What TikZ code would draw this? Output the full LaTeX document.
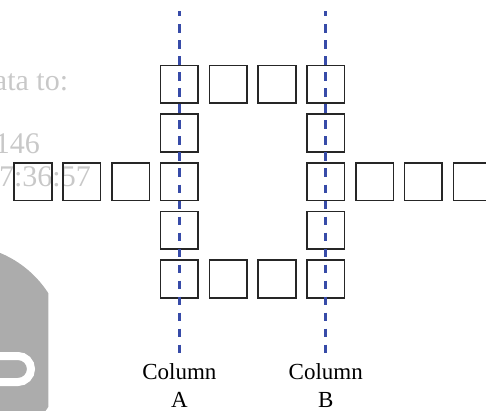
\documentclass[tikz,border=0pt]{standalone}
\usepackage{fontspec}
\setmainfont{Liberation Serif}
\definecolor{colblue}{RGB}{55,75,168}
\definecolor{wmgray}{RGB}{200,200,200}
\definecolor{blobgray}{RGB}{172,172,172}
\begin{document}
\begin{tikzpicture}[x=1pt,y=-1pt,
  cell/.style={draw=black!85, line width=1.6pt, minimum size=37.7pt, inner sep=0pt},
  colline/.style={draw=colblue, line width=2.8pt, dash pattern=on 8.2pt off 7.82pt, dash phase=2.72pt},
  lab/.style={font=\fontsize{23}{28}\selectfont, inner sep=0pt, anchor=base},
  wm/.style={font=\fontsize{30}{36}\selectfont, text=wmgray, inner sep=0pt, anchor=base east}]
\useasboundingbox (0,0) rectangle (486,410);
\begin{scope}
\clip (0,0) rectangle (486,410);
% background remnants
\begin{scope}
\clip (0,240) rectangle (48.3,410);
\fill[blobgray] (-40,350) circle[radius=105];
\draw[white, line width=8pt, rounded corners=13pt] (-40,356) rectangle (31,382);
\end{scope}
\node[wm] (w1) at (68.3,90) {ata to:};
\node[wm] (w2) at (40,153) {146};
\node[wm] (w3) at (91,186.7) {7:36:57};
% top row
\node[cell] (t0) at (179.4,84.2) {};
\node[cell] (t1) at (228.2,84.2) {};
\node[cell] (t2) at (277.0,84.2) {};
\node[cell] (t3) at (325.8,84.2) {};
% second row
\node[cell] (a1) at (179.4,132.9) {};
\node[cell] (b1) at (325.8,132.9) {};
% middle row
\node[cell] (l3) at (33.0,181.6) {};
\node[cell] (l2) at (81.8,181.6) {};
\node[cell] (l1) at (130.6,181.6) {};
\node[cell] (a2) at (179.4,181.6) {};
\node[cell] (b2) at (325.8,181.6) {};
\node[cell] (r1) at (374.6,181.6) {};
\node[cell] (r2) at (423.4,181.6) {};
\node[cell] (r3) at (472.2,181.6) {};
% fourth row
\node[cell] (a3) at (179.4,230.3) {};
\node[cell] (b3) at (325.8,230.3) {};
% bottom row
\node[cell] (u0) at (179.4,279.0) {};
\node[cell] (u1) at (228.2,279.0) {};
\node[cell] (u2) at (277.0,279.0) {};
\node[cell] (u3) at (325.8,279.0) {};
% column lines
\coordinate (Atop) at (179.4,11);
\coordinate (Abot) at (179.4,352.8);
\coordinate (Btop) at (325.8,11);
\coordinate (Bbot) at (325.8,352.8);
\draw[colline] (Atop) -- (Abot);
\draw[colline] (Btop) -- (Bbot);
% labels
\node[lab] (cA) at (179.4,379) {Column};
\node[lab] (lA) at (179.4,407.5) {A};
\node[lab] (cB) at (325.8,379) {Column};
\node[lab] (lB) at (325.8,407.5) {B};
\end{scope}
\end{tikzpicture}
\end{document}
